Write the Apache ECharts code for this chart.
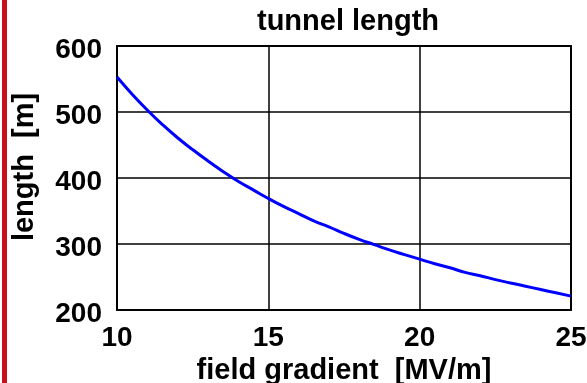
<!DOCTYPE html>
<html>
<head>
<meta charset="utf-8">
<title>tunnel length</title>
<script src="https://cdn.jsdelivr.net/npm/echarts@6/dist/echarts.min.js"></script>
<style>
  html, body { margin: 0; padding: 0; background: #fff; }
  #chart { width: 587px; height: 383px; }
</style>
</head>
<body>
<div id="chart"></div>
<script>
// Field gradient in MV/m
const gradient = [10, 10.5, 11, 11.5, 12, 12.5, 13, 13.5, 14, 14.5, 15, 15.5, 16, 16.5, 17, 17.5,
                  18, 18.5, 19, 19.5, 20, 20.5, 21, 21.5, 22, 22.5, 23, 23.5, 24, 24.5, 25];
// Tunnel length in metres
const tunnelLength = [553, 527, 503, 481, 461, 443, 426, 410, 395, 382, 369, 357, 346, 335, 326, 316,
                      307, 299, 291, 284, 277, 270, 264, 257, 252, 246, 241, 236, 231, 226, 221];
const xTicks = [10, 15, 20, 25];
const yTicks = [200, 300, 400, 500, 600];

const FONT = "'Liberation Sans', Arial, sans-serif";
const txt = (size) => ({ fontFamily: FONT, fontWeight: 'bold', fontSize: size, color: '#000' });
const frameLine = { show: true, lineStyle: { color: '#000', width: 2 } };
const gridLine = { show: true, lineStyle: { color: '#000', width: 1.5 } };

const chart = echarts.init(document.getElementById('chart'), null, { renderer: 'canvas' });

chart.setOption({
  backgroundColor: '#ffffff',
  animation: false,
  title: {
    text: 'tunnel length',
    left: 343, top: 2, textAlign: 'center',
    textStyle: txt(29)
  },
  graphic: [{
    type: 'rect',
    shape: { x: 2, y: 0, width: 5, height: 383 },
    style: { fill: '#c4101f' },
    silent: true
  }],
  grid: { left: 117, right: 16, top: 46, bottom: 73, containLabel: false, outerBoundsMode: 'none' },
  xAxis: [{
    type: 'value',
    min: xTicks[0], max: xTicks[xTicks.length - 1], interval: 5,
    name: 'field gradient  [MV/m]',
    nameLocation: 'middle', nameGap: 41,
    nameTextStyle: txt(29),
    axisLine: frameLine,
    axisTick: { show: false },
    axisLabel: Object.assign(txt(28), { margin: 14, showMinLabel: true, showMaxLabel: true }),
    splitLine: gridLine
  }, {
    // top edge of the plot box
    type: 'value', position: 'top',
    min: xTicks[0], max: xTicks[xTicks.length - 1], interval: 5,
    axisLine: frameLine, axisTick: { show: false },
    axisLabel: { show: false }, splitLine: { show: false }
  }],
  yAxis: [{
    type: 'value',
    min: yTicks[0], max: yTicks[yTicks.length - 1], interval: 100,
    name: '{n|length  [m]}',
    nameLocation: 'middle', nameGap: 78, nameRotate: 90,
    nameTextStyle: Object.assign(txt(29), {
      rich: { n: Object.assign(txt(29), { padding: [0, 0, 0, 22] }) }
    }),
    axisLine: frameLine,
    axisTick: { show: false },
    axisLabel: Object.assign(txt(28), {
      margin: 15,
      formatter: '{v|{value}}',
      rich: { v: Object.assign(txt(28), { padding: [8, 0, 0, 0] }) }
    }),
    splitLine: gridLine
  }, {
    // right edge of the plot box
    type: 'value', position: 'right',
    min: yTicks[0], max: yTicks[yTicks.length - 1], interval: 100,
    axisLine: frameLine, axisTick: { show: false },
    axisLabel: { show: false }, splitLine: { show: false }
  }],
  series: [{
    type: 'line',
    xAxisIndex: 0, yAxisIndex: 0,
    data: gradient.map((g, i) => [g, tunnelLength[i]]),
    smooth: true,
    showSymbol: false,
    lineStyle: { color: '#0000ff', width: 3 },
    z: 5
  }]
});
</script>
</body>
</html>
